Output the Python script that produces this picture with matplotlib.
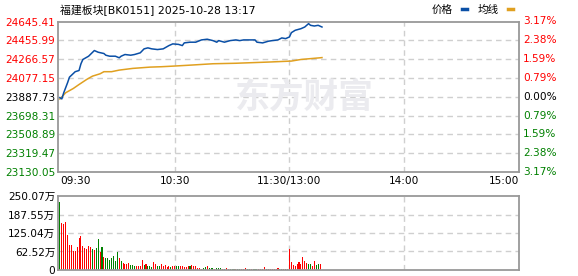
import matplotlib
matplotlib.use('Agg')
import matplotlib.pyplot as plt
from matplotlib.lines import Line2D

plt.rcParams['font.family'] = ['DejaVu Sans', 'Noto Sans CJK SC']

title = '福建板块[BK0151] 2025-10-28 13:17'

# minute index from 09:30 (0..240, 11:30 and 13:00 share index 120)
price_min = [0, 1, 2, 4, 5, 8, 10, 11, 12, 15, 18, 20, 23, 24, 26, 29, 31, 32, 34, 37,
             39, 42, 44, 46, 48, 51, 54, 57, 59, 62, 64, 65, 68, 71, 74, 77, 80, 82, 83, 86,
             89, 92, 94, 96, 102, 103, 106, 109, 111, 114, 116, 118, 120, 121, 123, 126, 128,
             130, 131, 133, 135, 137]
price = [23878, 23866, 23928, 24029, 24085, 24140, 24152, 24220, 24263, 24296, 24353, 24336,
         24323, 24306, 24296, 24296, 24280, 24296, 24313, 24306, 24313, 24330, 24370, 24380,
         24370, 24363, 24370, 24403, 24420, 24415, 24403, 24430, 24437, 24437, 24460, 24467,
         24453, 24437, 24453, 24437, 24453, 24460, 24453, 24460, 24460, 24437, 24430, 24447,
         24453, 24460, 24480, 24473, 24490, 24533, 24557, 24573, 24590, 24624, 24607, 24600,
         24607, 24590]

avg_min = [0, 3, 7, 10, 14, 17, 21, 23, 27, 31, 38, 47, 53, 60, 69, 80, 92, 109, 121, 126, 136, 137]
avg = [23865, 23928, 23971, 24011, 24062, 24095, 24119, 24140, 24140, 24156, 24173, 24186,
       24190, 24197, 24207, 24220, 24225, 24237, 24247, 24263, 24280, 24282]

# volume per minute (万), r = up, g = down
volume = [230, 159, 157, 162, 118, 85, 85, 64, 64, 78, 108, 115, 81, 74, 71, 81, 78, 71, 68, 74,
          105, 61, 78, 44, 41, 41, 35, 41, 47, 30, 61, 41, 30, 24, 20, 20, 24, 17, 17, 14,
          14, 14, 14, 34, 17, 20,
          14, 14, 10, 27, 20, 14, 14, 20, 14, 17, 10, 14, 10, 14, 14, 14, 14, 14, 14, 10,
          10, 14, 14, 17, 14, 14, 7, 7, 3, 7, 10, 14, 7, 7, 7, 3, 7, 7, 7, 3, 3, 7, 3, 3, 3, 3,
          3, 3, 3, 3, 3, 7, 3, 3, 3, 3, 3, 3, 3, 3, 3, 10, 3, 3, 3, 3, 3, 3, 7, 3, 3, 3, 3, 3,
          71, 27, 17, 14, 20, 27, 20, 44, 30, 24, 20, 20, 14, 30, 17, 20, 20]
vol_dir = ('grrrrrrrrrrrrrrrrgrgg' 'rgrggggggg' 'rgrrrrgggrrrrgr'
           'gggrrggrrrrrgrrggrrrrrgrrrrrrggrgggrgggrgrrggg'
           'rggrrrggrgggrrrrgrrrrrrggrgr' 'r' 'rrrrrrrrrggrrggr')

price_ticks = [24645.41, 24455.99, 24266.57, 24077.15, 23887.73, 23698.31, 23508.89, 23319.47, 23130.05]
pct_labels = ['3.17%', '2.38%', '1.59%', '0.79%', '0.00%', '0.79%', '1.59%', '2.38%', '3.17%']
time_pos = [0, 60, 120, 180, 240]
time_labels = ['09:30', '10:30', '11:30/13:00', '14:00', '15:00']
vol_ticks = [0, 62.52, 125.04, 187.55, 250.07]
vol_labels = ['0', '62.52万', '125.04万', '187.55万', '250.07万']

RED = '#ff0000'
GREEN = '#008000'
BLUE = '#0a4fa6'
GOLD = '#e0a020'
GRID = '#cfcfcf'
FRAME = '#999999'

fig = plt.figure(figsize=(5.78, 2.76), dpi=100)
ax = fig.add_axes([58 / 578, 1 - 172 / 276, 461 / 578, 150.5 / 276])
axv = fig.add_axes([58 / 578, 1 - 270 / 276, 461 / 578, 74 / 276])

for a in (ax, axv):
    a.set_xlim(-1, 240)
    for s in a.spines.values():
        s.set_color(FRAME)
        s.set_linewidth(1.3)
    a.tick_params(length=0, labelsize=7.6)
    for xv in time_pos[1:-1]:
        a.axvline(xv, color=GRID, lw=1, ls=(0, (4, 3)), zorder=0)

# main price chart
ax.set_ylim(price_ticks[-1], price_ticks[0])
for yv in price_ticks[1:-1]:
    ax.axhline(yv, color=GRID, lw=1, ls=(0, (4, 3)), zorder=0)
ax.text(0.535, 0.5, '东方财富', transform=ax.transAxes, ha='center', va='center',
        fontsize=25, fontweight='bold', color='#ebebef', family=['Noto Sans CJK SC'],
        style='italic', zorder=0)
ax.plot(price_min, price, color=BLUE, lw=1.1, zorder=3)
ax.plot(avg_min, avg, color=GOLD, lw=1.1, zorder=2)

ax.set_yticks(price_ticks, [f'{v:.2f}' for v in price_ticks])
ax.tick_params(axis='y', pad=2)
for i, lab in enumerate(ax.get_yticklabels()):
    lab.set_color(RED if i < 4 else ('black' if i == 4 else GREEN))
for i, (yv, t) in enumerate(zip(price_ticks, pct_labels)):
    c = RED if i < 4 else ('black' if i == 4 else GREEN)
    ax.text(1.009, yv, t, transform=ax.get_yaxis_transform(), ha='left', va='center',
            fontsize=7.6, color=c)

ax.set_xticks(time_pos, time_labels)
ax.tick_params(axis='x', pad=3)
xl = ax.get_xticklabels()
xl[0].set_horizontalalignment('left')
xl[-1].set_horizontalalignment('right')

fig.text(60 / 578, 1 - 10 / 276, title, fontsize=7.8, va='center', ha='left')
fig.text(432 / 578, 1 - 10 / 276, '价格', fontsize=7.6, va='center', ha='left')
fig.text(478 / 578, 1 - 10 / 276, '均线', fontsize=7.6, va='center', ha='left')
fig.add_artist(Line2D([462 / 578, 467 / 578], [1 - 9 / 276] * 2, color=BLUE, lw=2.5))
fig.add_artist(Line2D([508 / 578, 513 / 578], [1 - 9 / 276] * 2, color=GOLD, lw=2.5))

# volume chart
axv.set_ylim(0, vol_ticks[-1])
for yv in vol_ticks[1:-1]:
    axv.axhline(yv, color=GRID, lw=1, ls=(0, (4, 3)), zorder=0)
cols = [RED if d == 'r' else GREEN for d in vol_dir]
axv.bar(range(len(volume)), volume, width=0.55, color=cols[:len(volume)], zorder=2,
        antialiased=False)
axv.set_xticks([])
axv.set_yticks(vol_ticks, vol_labels)
axv.tick_params(axis='y', pad=2)

fig.savefig('out.png', dpi=100)
